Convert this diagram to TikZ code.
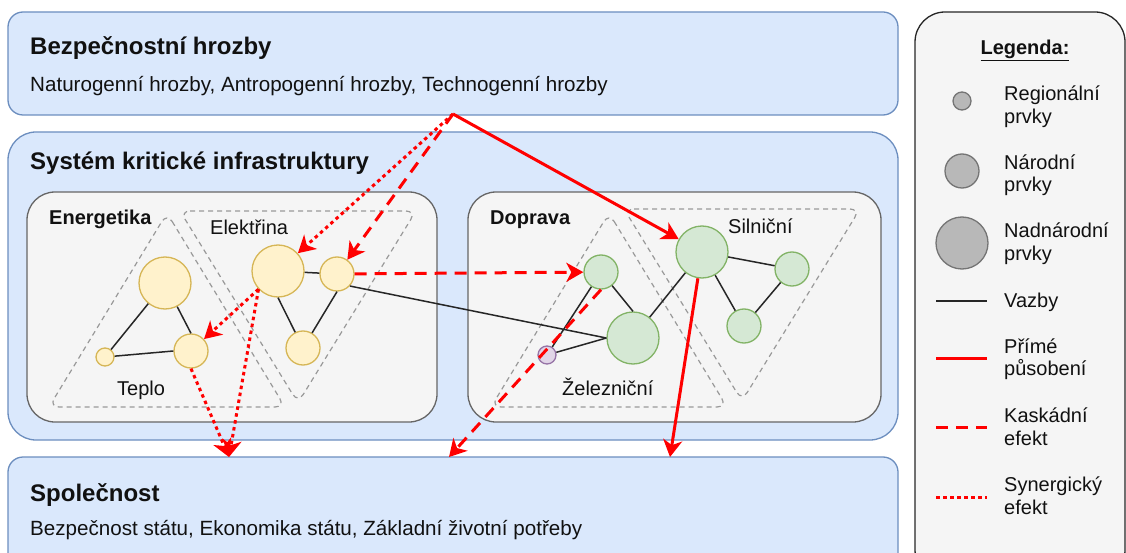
\documentclass[tikz,border=0pt]{standalone}
\usepackage{fontspec}
\setmainfont{Liberation Sans}
\usetikzlibrary{arrows.meta}
\definecolor{boxfill}{HTML}{DAE8FC}
\definecolor{boxline}{HTML}{6C8EBF}
\definecolor{panfill}{HTML}{F5F5F5}
\definecolor{panline}{HTML}{666666}
\definecolor{grpline}{HTML}{999999}
\definecolor{yelfill}{HTML}{FFF2CC}
\definecolor{yelline}{HTML}{D6B656}
\definecolor{grnfill}{HTML}{D5E8D4}
\definecolor{grnline}{HTML}{82B366}
\definecolor{purfill}{HTML}{E1D5E7}
\definecolor{purline}{HTML}{9673A6}
\definecolor{legfill}{HTML}{B8B8B8}
\definecolor{legline}{HTML}{747474}
\definecolor{txtcol}{HTML}{111111}

\begin{document}
\begin{tikzpicture}[x=1pt,y=-1pt,
  txt/.style={inner sep=0pt,anchor=base west,text=txtcol,font=\fontsize{20}{22.5}\selectfont},
  big/.style={txt,font=\fontsize{20.6}{23}\selectfont},
  ttl/.style={txt,font=\fontsize{24}{28}\selectfont\bfseries},
  hdr/.style={txt,font=\fontsize{20}{22.5}\selectfont\bfseries},
  legtxt/.style={txt,align=left},
  elem/.style={circle,inner sep=0pt,line width=1.3pt},
  yel/.style={elem,fill=yelfill,draw=yelline},
  grn/.style={elem,fill=grnfill,draw=grnline},
  pur/.style={elem,fill=purfill,draw=purline},
  leg/.style={elem,fill=legfill,draw=legline},
  reg/.style={minimum size=18pt},
  nat/.style={minimum size=34pt},
  nad/.style={minimum size=52pt},
  link/.style={draw=black!85,line width=1.5pt},
  grp/.style={draw=grpline,line width=1.2pt,dash pattern=on 5pt off 4pt,rounded corners=10pt},
  rline/.style={draw=red,line width=3pt},
  direct/.style={rline,-{Stealth[length=17pt,width=19pt,inset=5pt]}},
  casc/.style={dash pattern=on 12pt off 8pt},
  syn/.style={dash pattern=on 3.5pt off 3.5pt}]
  \useasboundingbox (0,0) rectangle (1126,553);

  \draw[fill=boxfill,draw=boxline,line width=1.3pt,rounded corners=15pt] (8,12) rectangle (898,115);
  \draw[fill=boxfill,draw=boxline,line width=1.3pt,rounded corners=28pt] (8,132) rectangle (898,440);
  \draw[fill=boxfill,draw=boxline,line width=1.3pt,rounded corners=15pt] (8,457) rectangle (898,575);
  \draw[fill=panfill,draw=panline,line width=1.3pt,rounded corners=28pt] (27,192) rectangle (437,422);
  \draw[fill=panfill,draw=panline,line width=1.3pt,rounded corners=28pt] (468,192) rectangle (881,422);
  \draw[fill=panfill,draw=black!85,line width=1.3pt,rounded corners=30pt] (915,12) rectangle (1125,580);

  \node[ttl] (tHr) at (30,55) {Bezpečnostní hrozby};
  \node[big] (tHrD) at (30,91.5) {Naturogenní hrozby, Antropogenní hrozby, Technogenní hrozby};
  \node[ttl] (tKi) at (30,170) {Systém kritické infrastruktury};
  \node[ttl] (tSp) at (30,501) {Společnost};
  \node[big] (tSpD) at (30,535) {Bezpečnost státu, Ekonomika státu, Základní životní potřeby};
  \node[hdr] (tEn) at (49,225) {Energetika};
  \node[hdr] (tDo) at (490,225) {Doprava};

  \draw[grp] (167,213) -- (285,407) -- (49,407) -- cycle;
  \draw[grp] (180,211) -- (416,211) -- (298,403) -- cycle;
  \draw[grp] (609,213) -- (727,407) -- (491,407) -- cycle;
  \draw[grp] (624,209) -- (860,209) -- (742,401) -- cycle;
  \node[txt] (tTe) at (117,395) {Teplo};
  \node[txt] (tEl) at (210,235) {Elektřina};
  \node[txt] (tZe) at (562,395) {Železniční};
  \node[txt] (tSi) at (728,233.5) {Silniční};

  \node[yel,nad] (tA) at (165,283) {};
  \node[yel,nat] (tB) at (191,351) {};
  \node[yel,reg] (tC) at (105,357) {};
  \node[yel,nad] (eA) at (278,271) {};
  \node[yel,nat] (eB) at (337,274) {};
  \node[yel,nat] (eC) at (303,348) {};
  \node[grn,nat] (zA) at (601,272) {};
  \node[grn,nad] (zB) at (633,338) {};
  \node[pur,reg] (zC) at (547,355) {};
  \node[grn,nad] (sA) at (702,252) {};
  \node[grn,nat] (sB) at (792,269) {};
  \node[grn,nat] (sC) at (744,326) {};

  \draw[link] (tA) -- (tB.north);
  \draw[link] (tA) -- (tC);
  \draw[link] (tC) -- (tB.west);
  \draw[link] (eA) -- (eB);
  \draw[link] (eA.south) -- (eC);
  \draw[link] (eB.south) -- (eC);
  \draw[link] (eB.-43) -- (zB.west);
  \draw[link] (zA) -- (zC);
  \draw[link] (zA) -- (zB.north);
  \draw[link] (zC) -- (zB.west);
  \draw[link] (zB) -- (sA);
  \draw[link] (sA) -- (sB);
  \draw[link] (sA) -- (sC);
  \draw[link] (sB) -- (sC);

  \coordinate (pS) at (453,114);
  \coordinate (qA) at (229,457);
  \coordinate (qB) at (449,457);
  \coordinate (qC) at (670,457);
  \draw[direct] (pS) -- (sA);
  \draw[direct,syn] (pS) -- (eA);
  \draw[direct,casc] (pS) -- (eB);
  \draw[direct,casc] (eB) -- (zA);
  \draw[direct,syn] (eA.223) -- (tB);
  \draw[direct,syn] (eA.223) -- (qA);
  \draw[direct,syn] (tB.south) -- (qA);
  \draw[direct,casc] (zA.south) -- (qB);
  \draw[direct] (sA) -- (qC);

  \node[hdr,anchor=base] (lTi) at (1025,55) {\underline{Legenda:}};
  \node[leg,reg] (lcA) at (962,101) {};
  \node[leg,nat] (lcB) at (962,171) {};
  \node[leg,nad] (lcC) at (962,243) {};
  \coordinate (lvA) at (936,301);
  \coordinate (lvB) at (987,301);
  \coordinate (lpA) at (936,358);
  \coordinate (lpB) at (987,358);
  \coordinate (lkA) at (936,427);
  \coordinate (lkB) at (987,427);
  \coordinate (lsA) at (936,497);
  \coordinate (lsB) at (987,497);
  \draw[link] (lvA) -- (lvB);
  \draw[rline] (lpA) -- (lpB);
  \draw[rline,casc] (lkA) -- (lkB);
  \draw[rline,syn] (lsA) -- (lsB);
  \node[legtxt] (lRe) at (1004,123.5) {Regionální\\prvky};
  \node[legtxt] (lNa) at (1004,192) {Národní\\prvky};
  \node[legtxt] (lNd) at (1004,260.5) {Nadnárodní\\prvky};
  \node[legtxt] (lVa) at (1004,307.5) {Vazby};
  \node[legtxt] (lPr) at (1004,375.5) {Přímé\\působení};
  \node[legtxt] (lKa) at (1004,445) {Kaskádní\\efekt};
  \node[legtxt] (lSy) at (1004,514) {Synergický\\efekt};
\end{tikzpicture}
\end{document}
